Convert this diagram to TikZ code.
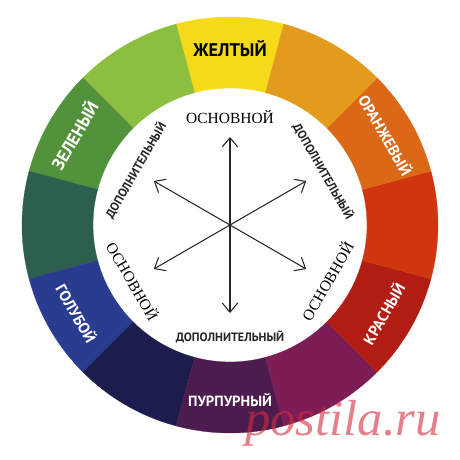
\documentclass[tikz,border=0pt]{standalone}
\usepackage{fontspec}
\setmainfont{Liberation Serif}
\setsansfont{PT Sans}
\newfontfamily\markfont{Liberation Serif}
\usepackage{xcolor}
\usetikzlibrary{arrows.meta, positioning}

\definecolor{wheelYellow}{HTML}{F5DA1A}
\definecolor{wheelLime}{HTML}{8CBF3F}
\definecolor{wheelGreen}{HTML}{52923A}
\definecolor{wheelTeal}{HTML}{2D5F4F}
\definecolor{wheelBlue}{HTML}{2A3C8F}
\definecolor{wheelNavy}{HTML}{1C1D4C}
\definecolor{wheelPurple}{HTML}{4D1C4E}
\definecolor{wheelMagenta}{HTML}{7D1D56}
\definecolor{wheelCrimson}{HTML}{B11D13}
\definecolor{wheelRed}{HTML}{CF360E}
\definecolor{wheelOrange}{HTML}{DA6816}
\definecolor{wheelAmber}{HTML}{E39B1D}
\definecolor{markRed}{HTML}{D42A3C}

\begin{document}
\begin{tikzpicture}[
        x=0.025cm, y=0.025cm,
        ringlabel/.style={font=\sffamily\bfseries\fontsize{11}{13}\selectfont, text=white, inner sep=0pt},
        mainlabel/.style={font=\rmfamily\fontsize{11}{13}\selectfont, inner sep=0pt},
        extralabel/.style={font=\sffamily\bfseries\fontsize{8.6}{10}\selectfont, text=black!85, inner sep=0pt},
        arrow/.style={line width=0.75pt, draw=black!85, {Straight Barb[length=6.5pt,width=11pt]}-{Straight Barb[length=6.5pt,width=11pt]}}
    ]
    \useasboundingbox (-230,-235) rectangle (230,225);

    % colour segments
    \foreach \a/\c in {90/wheelYellow, 120/wheelLime, 150/wheelGreen, 180/wheelTeal,
                       210/wheelBlue, 240/wheelNavy, 270/wheelPurple, 300/wheelMagenta,
                       330/wheelCrimson, 0/wheelRed, 30/wheelOrange, 60/wheelAmber}
        \filldraw[fill=\c, draw=\c, line width=0.2pt]
            (\a-15:137) arc[start angle=\a-15, end angle=\a+15, radius=137]
            -- (\a+15:208) arc[start angle=\a+15, end angle=\a-15, radius=208] -- cycle;

    \node [ringlabel, text=black, font=\sffamily\bfseries\fontsize{13}{15}\selectfont] (yellow) at (90:176) {ЖЕЛТЫЙ};
    \node [ringlabel, rotate=60, font=\sffamily\bfseries\fontsize{12.5}{15}\selectfont] (green) at (150:180) {ЗЕЛЕНЫЙ};
    \node [ringlabel, rotate=-60] (orange) at (30:180) {ОРАНЖЕВЫЙ};
    \node [ringlabel, rotate=60] (red) at (-30:177) {КРАСНЫЙ};
    \node [ringlabel, rotate=-60] (blue) at (210:177) {ГОЛУБОЙ};
    \node [ringlabel, font=\sffamily\bfseries\fontsize{10.5}{13}\selectfont] (purple) at (270:175) {ПУРПУРНЫЙ};

    \node [mainlabel] (primTop) at (90:108) {ОСНОВНОЙ};
    \node [mainlabel, rotate=60] (primRight) at (-30:112) {ОСНОВНОЙ};
    \node [mainlabel, rotate=-60] (primLeft) at (210:112) {ОСНОВНОЙ};
    \node [extralabel, rotate=-60] (secRight) at (30:108) {ДОПОЛНИТЕЛЬНЫЙ};
    \node [extralabel, rotate=60] (secLeft) at (150:109) {ДОПОЛНИТЕЛЬНЫЙ};
    \node [extralabel] (secBottom) at (270:112) {ДОПОЛНИТЕЛЬНЫЙ};

    \coordinate (up) at (90:88);
    \coordinate (down) at (270:88);
    \coordinate (upRight) at (30:88);
    \coordinate (downLeft) at (210:88);
    \coordinate (upLeft) at (150:88);
    \coordinate (downRight) at (-30:88);

    \draw [arrow] (down) -- (up);
    \draw [arrow] (downLeft) -- (upRight);
    \draw [arrow] (downRight) -- (upLeft);

    \node [anchor=base, inner sep=0pt, text=markRed, opacity=0.6,
           font=\markfont\itshape\fontsize{36}{40}\selectfont] (watermark) at (113,-210) {postila.ru};

\end{tikzpicture}
\end{document}
